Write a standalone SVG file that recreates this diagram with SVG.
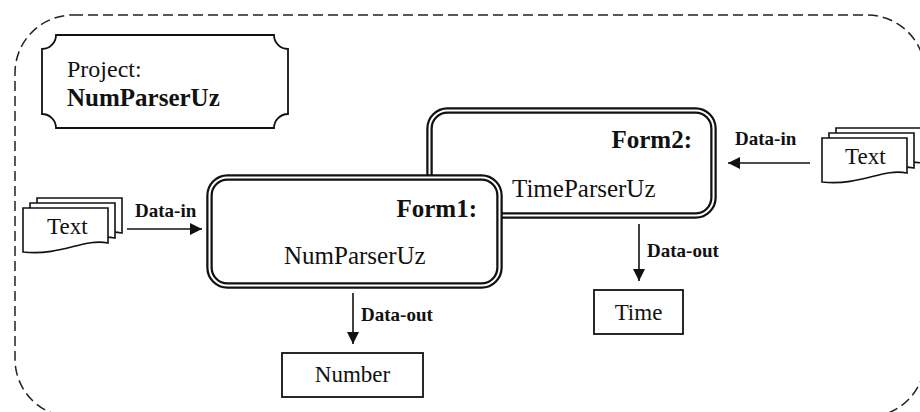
<svg xmlns="http://www.w3.org/2000/svg" width="920" height="412" viewBox="0 0 920 412">
<style>
  .t { font-family: "Liberation Serif", "Times New Roman", serif; fill: #111; }
  .b { font-weight: bold; }
  .dbl-o { fill: #fff; stroke: #111; stroke-width: 6.5; }
  .dbl-i { fill: none; stroke: #fff; stroke-width: 2; }
  .box { fill: #fff; stroke: #111; stroke-width: 1.8; }
  .page { fill: #fff; stroke: #111; stroke-width: 1.6; }
  .conn { fill: none; stroke: #111; stroke-width: 1.6; marker-end: url(#ah); }
</style>
<defs>
  <marker id="ah" markerUnits="userSpaceOnUse" markerWidth="13" markerHeight="12" refX="12" refY="6" orient="auto">
    <path d="M0,0 L12,6 L0,12 Z" fill="#111"/>
  </marker>
  <path id="doc" d="M0,0 H85 V35 C60,30 40,48 0,44 Z"/>
</defs>
<rect id="boundary" x="15" y="15" width="910" height="402" rx="58" ry="58" fill="none" stroke="#222" stroke-width="1.5" stroke-dasharray="10 5"/>
<g id="project">
  <path d="M56,35 H274 A14,14 0 0 0 288,49 V114 A14,14 0 0 0 274,128 H56 A14,14 0 0 0 42,114 V49 A14,14 0 0 0 56,35 Z" fill="#fff" stroke="#111" stroke-width="1.8"/>
  <text class="t" x="67" y="77" font-size="24">Project:</text>
  <text class="t b" x="67" y="106" font-size="25">NumParserUz</text>
</g>
<g id="form2">
  <rect class="dbl-o" x="429.5" y="110.5" width="284" height="105" rx="18"/>
  <rect class="dbl-i" x="429.5" y="110.5" width="284" height="105" rx="18"/>
  <text class="t b" x="692" y="148" font-size="25" text-anchor="end">Form2:</text>
  <text class="t" x="512" y="197" font-size="25">TimeParserUz</text>
</g>
<g id="form1">
  <rect class="dbl-o" x="209.5" y="177.5" width="290" height="108" rx="18"/>
  <rect class="dbl-i" x="209.5" y="177.5" width="290" height="108" rx="18"/>
  <text class="t b" x="477" y="217" font-size="25" text-anchor="end">Form1:</text>
  <text class="t" x="284" y="264" font-size="25">NumParserUz</text>
</g>
<g id="text-left">
  <use href="#doc" class="page" x="37" y="198"/>
  <use href="#doc" class="page" x="30" y="203"/>
  <use href="#doc" class="page" x="23" y="208"/>
  <text class="t" x="47" y="234" font-size="23">Text</text>
</g>
<g id="text-right">
  <use href="#doc" class="page" x="836" y="128"/>
  <use href="#doc" class="page" x="829" y="133"/>
  <use href="#doc" class="page" x="822" y="138"/>
  <text class="t" x="845" y="164" font-size="23">Text</text>
</g>
<g id="number">
  <rect class="box" x="282" y="353" width="141" height="44"/>
  <text class="t" x="352.5" y="382" font-size="23" text-anchor="middle">Number</text>
</g>
<g id="time">
  <rect class="box" x="594" y="290" width="89" height="44"/>
  <text class="t" x="638.5" y="320" font-size="23" text-anchor="middle">Time</text>
</g>
<g id="connectors">
  <path class="conn" d="M127,229 H202"/>
  <text class="t b" x="135" y="217" font-size="19">Data-in</text>
  <path class="conn" d="M810,163 H728"/>
  <text class="t b" x="735" y="145" font-size="19">Data-in</text>
  <path class="conn" d="M353,293 V344"/>
  <text class="t b" x="361" y="321" font-size="19">Data-out</text>
  <path class="conn" d="M639,224 V281"/>
  <text class="t b" x="647" y="257" font-size="19">Data-out</text>
</g>
</svg>
